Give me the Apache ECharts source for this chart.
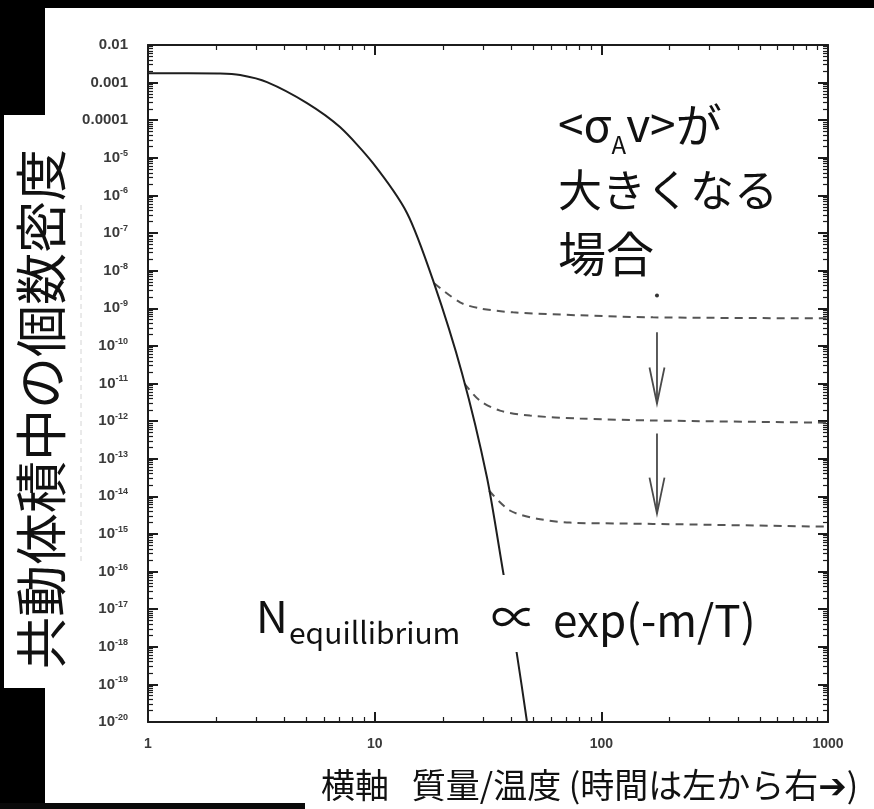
<!DOCTYPE html>
<html>
<head>
<meta charset="utf-8">
<script src="https://cdn.jsdelivr.net/npm/echarts@6/dist/echarts.min.js"></script>
<style>
  html, body { margin: 0; padding: 0; background: #000; }
  #chart { width: 874px; height: 809px; }
</style>
</head>
<body>
<div id="chart"></div>
<script>
// Equilibrium number density per comoving volume vs. x = m/T
const eqX = [1, 1.5, 2.08, 2.55, 3.35, 5.03, 7.03, 9.83, 13.9, 18.1, 24.3, 31.3, 36.8, 42.4, 47.0];
const eqY = [1.77e-3, 1.77e-3, 1.75e-3, 1.59e-3, 1.035e-3, 2.86e-4, 6.56e-5, 7.2e-6, 3.37e-7, 5.5e-9, 1.85e-11, 3.16e-14, 1.05e-16, 6.5e-19, 1e-20];

// Freeze-out relic abundances for increasing <σv>
const fo1X = [18.3, 23.8, 29.1, 40.8, 80.5, 169, 1000];
const fo1Y = [4.6e-9, 1.44e-9, 9.95e-10, 7.8e-10, 6.5e-10, 5.73e-10, 5.4e-10];
const fo2X = [24.9, 29.1, 35.7, 48.4, 80.5, 169, 1000];
const fo2Y = [1e-11, 3.5e-12, 1.9e-12, 1.4e-12, 1.17e-12, 1.04e-12, 9.1e-13];
const fo3X = [32.0, 39.5, 52.0, 72.7, 120.8, 169, 1000];
const fo3Y = [1.41e-14, 4.2e-15, 2.55e-15, 2.0e-15, 1.9e-15, 1.85e-15, 1.56e-15];

// Downward arrows (x position, start and tip values) and the marker dot above them
const arrowX = 176;
const arrowFrom = [2.29e-10, 4.7e-13];
const arrowTo = [2.94e-12, 3.47e-15];
const dotY = 2.2e-9;

// Tick labels
const xTickLabels = ['1', '10', '100', '1000'];
const yTickLabels = ['10^-20', '10^-19', '10^-18', '10^-17', '10^-16', '10^-15', '10^-14', '10^-13',
  '10^-12', '10^-11', '10^-10', '10^-9', '10^-8', '10^-7', '10^-6', '10^-5', '0.0001', '0.001', '0.01'];

// Minor tick positions (2..9 within each decade)
const xMinor = [];
[1, 10, 100].forEach(d => { for (let k = 2; k <= 9; k++) xMinor.push(k * d); });
const yMinor = [];
for (let e = -20; e <= -3; e++) { for (let k = 2; k <= 9; k++) yMinor.push(k * Math.pow(10, e)); }

const FONT_JP = '"Noto Sans CJK JP", "DejaVu Sans", sans-serif';
const AX = '#1c1c1c';

const chart = echarts.init(document.getElementById('chart'));

const pairs = (xs, ys) => xs.map((x, i) => [x, ys[i]]);

function xLabel(v) {
  const i = Math.round(Math.log10(v));
  return xTickLabels[i] !== undefined ? xTickLabels[i] : '';
}
function yLabel(v) {
  const i = Math.round(Math.log10(v)) + 20;
  const s = yTickLabels[i];
  if (s === undefined) return '';
  if (s.indexOf('^') >= 0) {
    const parts = s.split('^');
    return '{b|' + parts[0] + '}{s|' + parts[1] + '}';
  }
  return '{b|' + s + '}';
}

const labelRich = {
  b: { fontSize: 15, fontWeight: 'bold', color: '#3a3a3a', fontFamily: 'Liberation Sans', lineHeight: 18 },
  s: { fontSize: 9, fontWeight: 'bold', color: '#3a3a3a', fontFamily: 'Liberation Sans', lineHeight: 11, verticalAlign: 'top' }
};

const logX = { type: 'log', logBase: 10, min: 1, max: 1000, interval: 1, gridIndex: 0, splitLine: { show: false } };
const logY = { type: 'log', logBase: 10, min: 1e-20, max: 1e-2, interval: 1, gridIndex: 0, splitLine: { show: false } };

const majorTick = { inside: true, length: 10, lineStyle: { color: AX, width: 2 } };
const minorTick = (vals) => ({ inside: true, length: 5, customValues: vals, lineStyle: { color: AX, width: 1.2 } });
const line = { show: true, onZero: false, lineStyle: { color: AX, width: 2 } };
const noLine = { show: false, onZero: false };

chart.setOption({
  animation: false,
  backgroundColor: '#000',
  grid: { left: 148, top: 45, right: 46, bottom: 87, containLabel: false },
  xAxis: [
    Object.assign({}, logX, { position: 'bottom', axisLine: line, axisTick: majorTick,
      axisLabel: { margin: 15, formatter: xLabel, fontSize: 14, fontWeight: 'bold', color: '#3a3a3a', fontFamily: 'Liberation Sans' } }),
    Object.assign({}, logX, { position: 'bottom', axisLine: noLine, axisTick: minorTick(xMinor), axisLabel: { show: false } }),
    Object.assign({}, logX, { position: 'top', axisLine: line, axisTick: majorTick, axisLabel: { show: false } }),
    Object.assign({}, logX, { position: 'top', axisLine: noLine, axisTick: minorTick(xMinor), axisLabel: { show: false } })
  ],
  yAxis: [
    Object.assign({}, logY, { position: 'left', axisLine: line, axisTick: majorTick,
      axisLabel: { margin: 20, formatter: yLabel, rich: labelRich } }),
    Object.assign({}, logY, { position: 'left', axisLine: noLine, axisTick: minorTick(yMinor), axisLabel: { show: false } }),
    Object.assign({}, logY, { position: 'right', axisLine: line, axisTick: majorTick, axisLabel: { show: false } }),
    Object.assign({}, logY, { position: 'right', axisLine: noLine, axisTick: minorTick(yMinor), axisLabel: { show: false } })
  ],
  series: [
    { type: 'line', xAxisIndex: 0, yAxisIndex: 0, data: pairs(eqX, eqY), smooth: 0.25,
      showSymbol: false, lineStyle: { color: '#1e1e1e', width: 2 }, z: 3 },
    { type: 'line', xAxisIndex: 0, yAxisIndex: 0, data: pairs(fo1X, fo1Y), smooth: 0.3,
      showSymbol: false, lineStyle: { color: '#555', width: 2, type: [8, 6] }, z: 2 },
    { type: 'line', xAxisIndex: 0, yAxisIndex: 0, data: pairs(fo2X, fo2Y), smooth: 0.3,
      showSymbol: false, lineStyle: { color: '#555', width: 2, type: [8, 6] }, z: 2 },
    { type: 'line', xAxisIndex: 0, yAxisIndex: 0, data: pairs(fo3X, fo3Y), smooth: 0.3,
      showSymbol: false, lineStyle: { color: '#555', width: 2, type: [8, 6] }, z: 2 }
  ]
});

// Annotations anchored to data coordinates
const px = (x, y) => chart.convertToPixel({ xAxisIndex: 0, yAxisIndex: 0 }, [x, y]);
const arrowEls = [];
arrowFrom.forEach((from, i) => {
  const a = px(arrowX, from), b = px(arrowX, arrowTo[i]);
  arrowEls.push({ type: 'line', z: 5, shape: { x1: a[0], y1: a[1], x2: b[0], y2: b[1] },
    style: { stroke: '#4a4a4a', lineWidth: 1.8 } });
  arrowEls.push({ type: 'polyline', z: 5, shape: { points: [[b[0] - 7.5, b[1] - 36], [b[0], b[1]], [b[0] + 7.5, b[1] - 36]] },
    style: { stroke: '#4a4a4a', lineWidth: 1.8, fill: null } });
});
const d = px(arrowX, dotY);
arrowEls.push({ type: 'circle', z: 5, shape: { cx: d[0], cy: d[1], r: 2 }, style: { fill: '#333' } });

chart.setOption({
  graphic: [
    // slide panels
    { type: 'rect', z: -10, shape: { x: 45, y: 8, width: 829, height: 801 }, style: { fill: '#fff' } },
    { type: 'rect', z: -10, shape: { x: 4, y: 115, width: 45, height: 573 }, style: { fill: '#fff' } },
    { type: 'rect', z: -9, shape: { x: 0, y: 803, width: 305, height: 6 }, style: { fill: '#0a0a0a' } },
    { type: 'line', z: -9, shape: { x1: 81, y1: 205, x2: 81, y2: 565 }, style: { stroke: '#d4d4d4', lineWidth: 1, lineDash: [5, 4] } },
    // white box behind the proportionality sign
    { type: 'rect', z: 10, shape: { x: 497, y: 575, width: 26, height: 77 }, style: { fill: '#fff' } },
    // axis titles
    { type: 'text', z: 11, x: 41, y: 409, rotation: Math.PI / 2,
      style: { text: '共動体積中の個数密度', font: '52px ' + FONT_JP, fill: '#111', align: 'center', verticalAlign: 'middle' } },
    { type: 'text', z: 11, x: 321, y: 785,
      style: { text: '横軸   質量/温度 (時間は左から右➔)', font: '34px ' + FONT_JP, fill: '#111', align: 'left', verticalAlign: 'middle' } },
    // <σ_A v> label
    { type: 'text', z: 11, x: 558, y: 93,
      style: { text: '{a|<σ}{s|A}{a|v>が}', align: 'left', verticalAlign: 'top',
        rich: { a: { fontSize: 46, fontFamily: FONT_JP, fill: '#111', lineHeight: 64 },
                s: { fontSize: 24, fontFamily: FONT_JP, fill: '#111', lineHeight: 18, verticalAlign: 'bottom' } } } },
    { type: 'text', z: 11, x: 558, y: 190,
      style: { text: '大きくなる', font: '44px ' + FONT_JP, fill: '#111', align: 'left', verticalAlign: 'middle' } },
    { type: 'text', z: 11, x: 558, y: 254,
      style: { text: '場合', font: '48px ' + FONT_JP, fill: '#111', align: 'left', verticalAlign: 'middle' } },
    // N_equilibrium ∝ exp(-m/T)
    { type: 'text', z: 11, x: 256, y: 616,
      style: { text: 'N', font: '44px ' + FONT_JP, fill: '#111', align: 'left', verticalAlign: 'middle' } },
    { type: 'text', z: 11, x: 289, y: 633,
      style: { text: 'equillibrium', font: '30px ' + FONT_JP, fill: '#111', align: 'left', verticalAlign: 'middle' } },
    { type: 'text', z: 11, x: 491, y: 617,
      style: { text: '∝', font: '46px ' + FONT_JP, fill: '#111', align: 'left', verticalAlign: 'middle' } },
    { type: 'text', z: 11, x: 553, y: 620,
      style: { text: 'exp(-m/T)', font: '44px ' + FONT_JP, fill: '#111', align: 'left', verticalAlign: 'middle' } }
  ].concat(arrowEls)
});
</script>
</body>
</html>
